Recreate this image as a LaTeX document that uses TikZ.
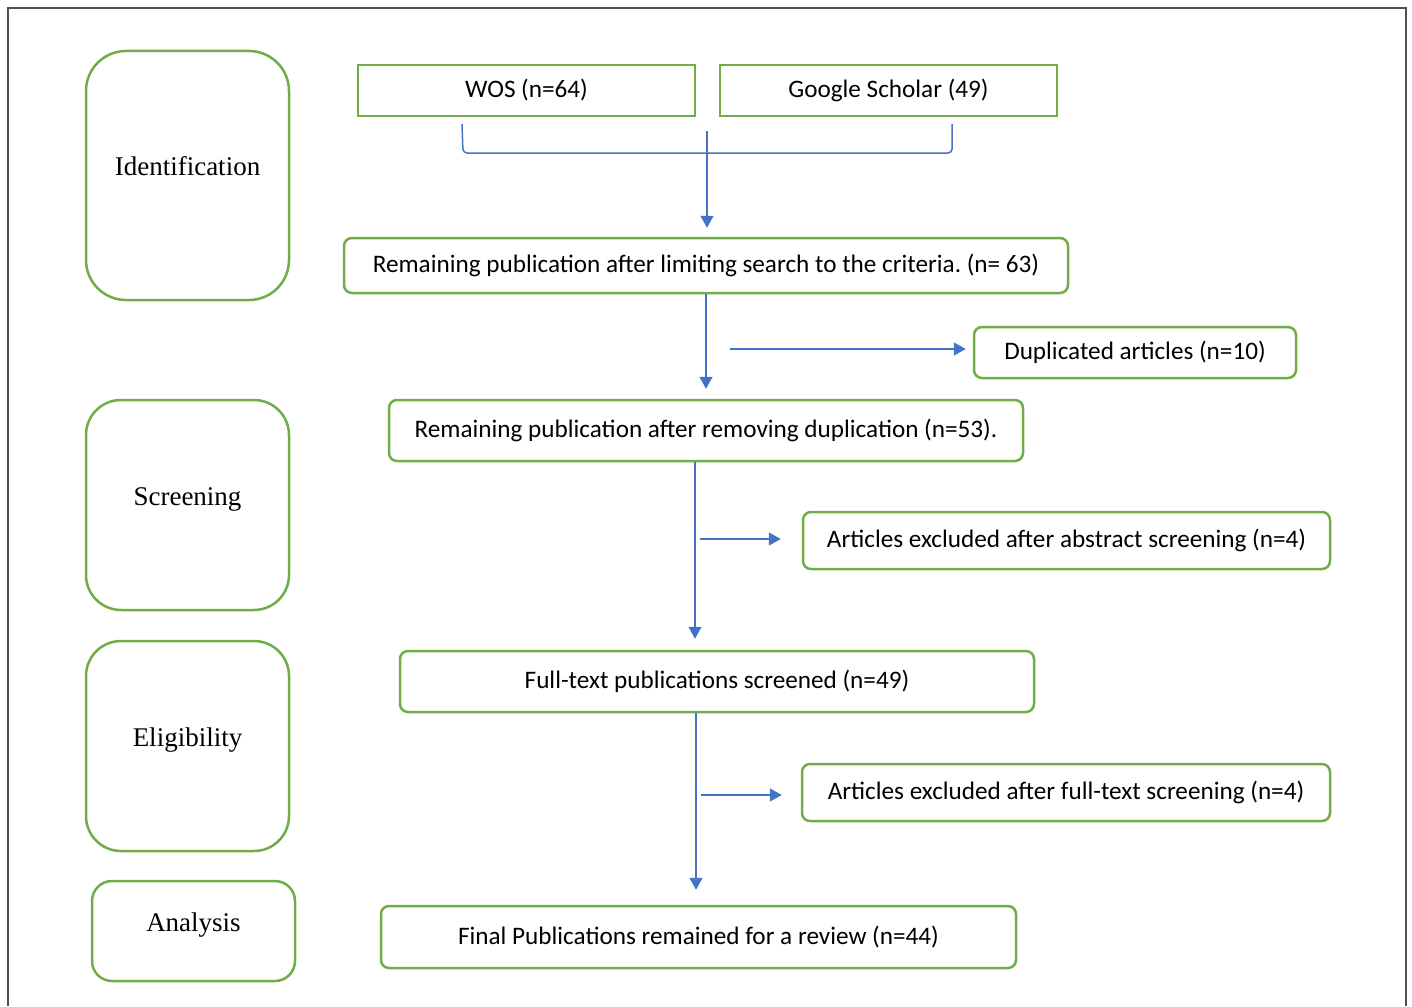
\documentclass[tikz,border=0pt]{standalone}
\usepackage{fontspec}
\setmainfont{Carlito}
\newfontfamily\stagefont{Liberation Serif}
\usetikzlibrary{arrows.meta, positioning, calc}
\definecolor{PrismaGreen}{HTML}{70AD47}
\definecolor{PrismaBlue}{HTML}{4472C4}
\definecolor{FrameGray}{HTML}{505050}

\begin{document}
\begin{tikzpicture}[x=1pt,y=-1pt,
    stage/.style={draw=PrismaGreen, line width=2.5pt, rounded corners=#1,
      minimum width=203pt, text height=18pt, text depth=18pt,
      font=\stagefont\fontsize{27}{30}\selectfont},
    stage/.default=35pt,
    srcbox/.style={draw=PrismaGreen, line width=2.5pt, minimum width=337pt,
      minimum height=51pt, font=\fontsize{25.2}{28}\selectfont},
    stepbox/.style={draw=PrismaGreen, line width=2.5pt, rounded corners=8pt,
      font=\fontsize{25.2}{28}\selectfont},
    link/.style={draw=PrismaBlue, line width=1.5pt},
    arr/.style={link, -{Triangle[length=12pt,width=13pt]}}]
  \useasboundingbox (0,0) rectangle (1412,1006);
  % frame
  \draw[FrameGray, line width=2pt] (8,1006) -- (8,8) -- (1406,8) -- (1406,1006);

  % stages
  \node[stage=40pt, minimum height=249pt] (ident) at (187.5,175.5) {Identification};
  \node[stage, minimum height=210pt] (screen) at (187.5,505) {Screening};
  \node[stage, minimum height=210pt] (elig) at (187.5,746) {Eligibility};
  \node[stage=20pt, minimum height=100pt] (analysis) at (193.5,931) {Analysis};

  % sources
  \node[srcbox] (wos) at (526.5,90.5) {WOS (n=64)};
  \node[srcbox] (scholar) at (888.5,90.5) {Google Scholar (49)};

  % steps
  \node[stepbox, minimum width=724pt, minimum height=55pt] (rem63) at (706,265.5)
    {Remaining publication after limiting search to the criteria.\ (n= 63)};
  \node[stepbox, minimum width=322pt, minimum height=51pt] (dup) at (1135,352.5)
    {Duplicated articles (n=10)};
  \node[stepbox, minimum width=634pt, minimum height=61pt] (rem53) at (706,430.5)
    {Remaining publication after removing duplication (n=53).};
  \node[stepbox, minimum width=527pt, minimum height=57pt] (exabs) at (1066.5,540.5)
    {Articles excluded after abstract screening (n=4)};
  \node[stepbox, minimum width=634pt, minimum height=61pt] (full) at (717,681.5)
    {Full-text publications screened (n=49)};
  \node[stepbox, minimum width=528pt, minimum height=57pt] (exfull) at (1066,792.5)
    {Articles excluded after full-text screening (n=4)};
  \node[stepbox, minimum width=635pt, minimum height=62pt] (final) at (698.5,937)
    {Final Publications remained for a review (n=44)};

  % connectors
  \coordinate (wosfoot) at (462,124);
  \coordinate (scholarfoot) at (952,124);
  \coordinate (join) at (707,131);
  \draw[link, rounded corners=4pt] (wosfoot) -- ++(1,29) -- ++(489,0) -- (scholarfoot);
  \draw[arr, shorten >=9pt] (join) -- (join |- rem63.north);
  \draw[arr, shorten >=10pt] (rem63.south) -- (rem53.north);
  \coordinate (dupfrom) at (730,349);
  \draw[arr, shorten >=7pt] (dupfrom) -- (dupfrom -| dup.west);
  \draw[arr, shorten >=11pt] ($(rem53.south)+(-11,0)$) -- ($(full.north)+(-22,0)$);
  \coordinate (absfrom) at (700,539);
  \draw[arr, shorten >=21pt] (absfrom) -- (absfrom -| exabs.west);
  \draw[arr, shorten >=15pt] ($(full.south)+(-21,0)$) -- ($(final.north)+(-2.5,0)$);
  \coordinate (fullfrom) at (701,795);
  \draw[arr, shorten >=19pt] (fullfrom) -- (fullfrom -| exfull.west);
\end{tikzpicture}
\end{document}
